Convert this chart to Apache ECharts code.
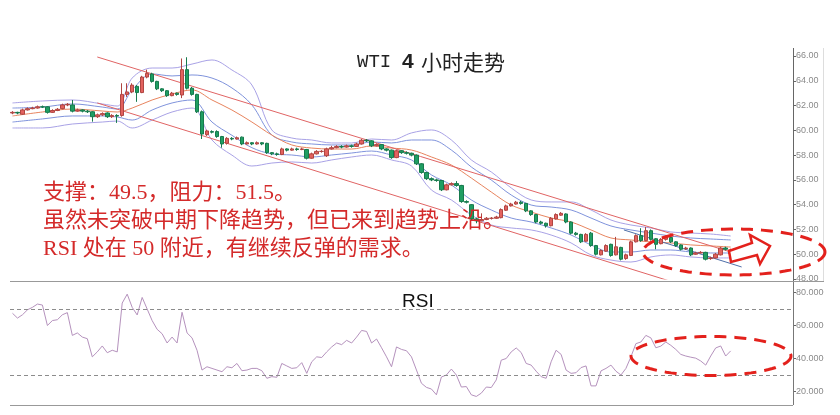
<!DOCTYPE html>
<html><head><meta charset="utf-8">
<script src="https://cdn.jsdelivr.net/npm/echarts@6/dist/echarts.min.js"></script>
<style>html,body{margin:0;padding:0;background:#fff}#c{width:840px;height:415px}</style>
</head><body><div id="c"></div>
<script>
// ---- data ----
const candleOpen = [61.40,61.45,61.30,61.65,61.75,61.80,61.90,61.90,61.45,61.60,61.75,62.05,62.05,61.55,61.65,61.55,61.50,61.10,61.25,61.40,61.10,61.20,
61.20,62.90,63.10,63.55,63.05,64.30,64.55,63.95,63.35,63.20,62.80,63.00,62.85,64.90,63.40,62.90,61.50,59.65,59.90,59.90,59.50,58.95,59.35,59.30,59.45,58.90,59.00,58.90,59.00,58.95,
58.20,58.10,58.05,58.50,58.40,58.50,58.45,58.45,57.75,58.10,58.30,57.95,58.50,58.60,58.70,58.65,58.75,58.70,58.90,59.20,59.15,58.75,58.85,58.50,58.40,57.80,58.35,58.20,58.15,58.00,
57.30,56.60,56.10,56.00,55.95,55.20,55.60,55.70,55.55,54.25,54.00,52.85,52.70,52.80,52.90,52.90,52.95,53.55,53.90,54.05,54.20,54.10,53.50,53.20,52.60,52.50,52.30,52.85,53.15,53.25,
52.60,51.70,51.60,51.05,51.70,50.70,49.95,50.25,50.80,49.95,50.55,49.65,49.90,51.00,51.50,51.10,51.90,51.25,50.85,51.20,51.35,51.00,50.75,50.45,50.50,50.00,50.10,50.15,49.65,49.70,49.95,50.50,50.05];
const candleClose = [61.45,61.40,61.65,61.75,61.80,61.90,61.88,61.45,61.60,61.70,62.05,62.10,61.55,61.65,61.55,61.50,61.10,61.25,61.35,61.10,61.20,61.15,
62.90,63.10,63.65,63.05,64.30,64.60,63.95,63.35,63.20,62.80,63.00,62.90,64.90,63.40,62.90,61.50,59.70,59.95,59.85,59.50,58.90,59.35,59.30,59.40,58.90,59.00,58.90,59.00,58.90,58.20,
58.10,58.05,58.50,58.40,58.50,58.45,58.50,57.75,58.10,58.30,58.30,58.50,58.60,58.70,58.65,58.75,58.70,58.90,59.20,59.15,58.75,58.85,58.50,58.40,57.80,58.35,58.20,58.15,58.00,57.30,
56.60,56.10,56.00,55.95,55.20,55.60,55.70,55.55,54.25,54.20,52.85,52.70,52.80,52.90,52.90,53.00,53.60,53.90,54.05,54.20,54.10,53.50,53.20,52.60,52.50,52.30,52.90,53.20,53.30,52.60,
51.70,51.60,51.00,51.60,50.70,50.00,50.30,50.70,49.90,50.60,49.60,49.95,51.00,51.50,51.10,51.90,51.20,50.80,51.20,51.40,51.00,50.70,50.40,50.50,49.95,50.10,50.15,49.60,49.70,50.00,50.50,50.40,50.35];
const candleLow = [61.30,61.30,61.25,61.60,61.70,61.75,61.80,61.35,61.40,61.55,61.70,61.95,61.45,61.50,61.45,61.40,60.70,61.00,61.15,61.00,61.00,60.60,
61.10,62.70,63.00,62.30,63.00,64.20,63.85,63.25,63.10,62.70,62.75,62.80,62.60,63.30,62.80,61.40,59.30,59.55,59.75,59.40,58.60,58.85,59.20,59.25,58.80,58.85,58.80,58.85,58.80,58.10,
58.00,57.95,58.00,58.30,58.35,58.35,58.40,57.65,57.70,58.05,58.20,57.85,58.45,58.55,58.55,58.60,58.60,58.65,58.85,59.05,58.65,58.70,58.40,58.30,57.70,57.75,58.10,58.05,57.90,57.20,
56.50,56.00,55.90,55.85,55.10,55.15,55.55,55.45,54.15,54.10,52.70,52.50,52.65,52.75,52.80,52.85,52.90,53.50,53.85,54.00,54.00,53.40,53.10,52.50,52.40,52.15,52.25,52.80,53.10,52.50,
51.60,51.50,50.90,51.00,50.60,49.90,49.90,50.20,49.80,49.90,49.50,49.55,49.85,50.95,51.00,51.05,51.10,50.40,50.80,51.10,50.90,50.60,50.30,50.35,49.85,49.95,50.05,49.50,49.55,49.65,49.90,50.30,50.00];
const candleHigh = [61.55,61.50,61.75,61.85,61.90,62.00,62.00,61.95,61.70,61.80,62.15,62.20,62.45,61.75,61.70,61.65,61.55,61.35,61.45,61.45,61.30,61.30,
63.80,63.80,63.80,63.65,64.40,64.90,64.65,64.00,63.40,63.25,63.10,63.05,65.80,65.90,63.50,62.95,61.60,60.05,60.00,60.00,59.55,59.45,59.45,59.50,59.50,59.10,59.05,59.10,59.05,59.00,
58.25,58.20,58.60,58.55,58.60,58.60,58.60,58.50,58.20,58.40,58.40,58.60,58.75,58.80,58.80,58.85,58.85,59.00,59.30,59.30,59.20,58.95,58.90,58.55,58.45,58.45,58.40,58.30,58.20,58.05,
57.35,56.65,56.20,56.10,56.00,55.70,55.80,55.90,55.60,54.35,54.05,52.95,53.30,53.00,53.00,53.10,53.70,54.00,54.15,54.30,54.30,54.15,53.55,53.25,52.70,52.55,53.00,53.30,53.40,53.30,
52.65,51.80,51.65,51.70,51.80,50.75,50.40,50.80,50.85,51.40,50.60,50.05,51.10,51.60,52.10,52.20,52.00,51.30,51.30,51.50,51.40,51.05,50.80,50.60,50.55,50.20,50.25,50.20,49.80,50.10,50.60,50.60,50.45];
const rsiValues = [67.4,64.5,66.5,69.5,71,73,72.4,60,63,63.5,66.5,67.8,54,55.5,53,52,41,44,47.6,43.5,45,44,
73.6,79,71,66.4,77,70,63,57.7,55,49.4,53,49.4,68,55.5,52.5,45,33,35,34,33,32,35,34.4,37,32.6,33,34,34,32.6,28,
29,28.6,37,35.5,34,34.4,37.5,31,38,41,40.6,44,47,49.4,48.4,51,49.4,53,57,56.4,49.4,51.8,46.5,41,35,47,45.5,44.7,41,33,
25,22.5,21.5,18,28.8,30,33.6,30,22.7,23,18,17,19,22.7,22.4,27,39,40,44,46.4,43.6,37,36,32.3,29,28,38,45,42.5,33,
31,31.4,34.5,35.5,23.4,23.4,32.5,34,36,32.3,30,34,41,49,50,54,52.5,46.5,47.5,50,48,45.5,42.5,41.5,40.8,40.2,38.5,36,41.5,46.4,47.6,41.5,44.6];
const rsiLevels = [70, 30];
// band lines, [candle index, price]
const bandOuterUpper = [[0,62.21],[6,62.37],[12,62.45],[18,62.13],[21,61.96],[24,64.22],[28,65.03],[32,65.03],[36,65.35],[40,65.68],[44,64.87],[48,63.66],[52,60.03],[56,59.38],[60,59.22],[64,58.98],[68,58.98],[72,59.30],[76,59.22],[80,59.79],[84,60.03],[88,59.22],[92,57.61],[96,56.64],[100,55.35],[104,54.38],[108,54.22],[112,54.22],[116,53.57],[120,52.76],[124,52.36],[128,52.12],[132,51.80],[136,51.71],[140,51.63],[144,51.47]];
const bandInnerUpper = [[0,61.80],[6,61.88],[12,62.13],[18,61.88],[21,61.72],[24,63.26],[28,64.55],[32,64.39],[36,64.47],[40,64.22],[44,63.42],[48,62.05],[52,59.62],[56,59.06],[60,58.90],[64,58.82],[68,58.82],[72,59.06],[76,58.98],[80,59.22],[84,59.22],[88,58.41],[92,57.04],[96,55.99],[100,54.78],[104,53.97],[108,53.81],[112,53.57],[116,52.92],[120,52.28],[124,51.96],[128,51.71],[132,51.47],[136,51.31],[140,51.23],[144,51.15]];
const bandMiddle = [[0,61.16],[6,61.48],[12,61.72],[18,61.56],[21,61.48],[24,61.80],[28,62.45],[32,62.93],[36,63.26],[40,62.45],[44,61.64],[48,60.67],[52,59.62],[56,58.82],[60,58.57],[64,58.49],[68,58.49],[72,58.74],[76,58.57],[80,58.41],[84,57.85],[88,57.20],[92,56.15],[96,55.02],[100,53.97],[104,53.41],[108,52.92],[112,52.60],[116,51.96],[120,51.31],[124,51.15],[128,50.99],[132,50.91],[136,50.75],[140,50.67],[144,50.58]];
const bandInnerLower = [[0,60.67],[6,60.92],[12,61.16],[18,61.16],[21,61.08],[24,60.83],[28,61.64],[32,62.21],[36,62.45],[40,60.67],[44,59.60],[48,58.60],[52,58.10],[56,58.01],[60,57.85],[64,58.01],[68,58.17],[72,58.33],[76,58.01],[80,57.61],[84,56.40],[88,55.59],[92,54.38],[96,53.57],[100,52.92],[104,52.60],[108,52.12],[112,51.55],[116,50.75],[120,50.18],[124,50.18],[128,50.34],[132,50.34],[136,50.18],[140,50.10],[144,50.10]];
const bandOuterLower = [[0,60.19],[6,60.19],[12,60.51],[18,60.67],[21,60.75],[24,60.19],[28,60.83],[32,61.48],[36,61.80],[40,59.22],[44,58.00],[48,57.12],[52,57.36],[56,57.45],[60,57.36],[64,57.61],[68,57.85],[72,58.01],[76,57.61],[80,57.12],[84,55.18],[88,54.38],[92,53.17],[96,52.36],[100,52.12],[104,51.96],[108,51.55],[112,50.91],[116,49.94],[120,49.53],[124,49.37],[128,49.78],[132,49.94],[136,49.78],[140,49.70],[144,49.70]];
// trend lines
const channelUpper = [[17,65.92],[146.6,49.86]];
const channelLower = [[17,62.21],[146.6,45.98]];
const trendBlue = [[122.6,51.96],[146.2,48.97]];
const priceTicks = {min:48, max:66, step:2};
const rsiTicks = {min:20, max:80, step:20};

const slotCount = 157;
const categories = Array.from({length: slotCount}, (_, i) => 'K' + i);
const candleData = candleOpen.map((o, i) => [o, candleClose[i], candleLow[i], candleHigh[i]]);

function ellipsePts(cx, cy, rx, ry){
  const p = [];
  for (let k = 0; k < 90; k++) { const t = k / 90 * Math.PI * 2; p.push([cx + rx*Math.cos(t), cy + ry*Math.sin(t)]); }
  return p;
}

const chart = echarts.init(document.getElementById('c'), null, {renderer:'canvas'});
const lineSeries = (name, data, color) => ({
  name, type:'line', xAxisIndex:1, yAxisIndex:0, data, smooth:0.35, symbol:'none',
  lineStyle:{color, width:1}, z:2, silent:true
});
const redText = '#d42a2a';
const txtFont = '"Liberation Serif","Noto Sans CJK SC"';
const axisBase = {
  axisLine:{show:false, onZero:false}, splitLine:{show:false},
  axisTick:{show:true, inside:false, length:3, lineStyle:{color:'#666'}}
};
chart.setOption({
  animation:false,
  backgroundColor:'#fff',
  grid:[
    {left:10, right:47, top:56, height:223},
    {left:10, right:47, top:292.5, height:99}
  ],
  xAxis:[
    {type:'category', gridIndex:0, data:categories, show:false, boundaryGap:true},
    {type:'value', gridIndex:0, min:-0.5, max:slotCount-0.5, show:false},
    {type:'category', gridIndex:1, data:categories, show:false, boundaryGap:true}
  ],
  yAxis:[
    Object.assign({type:'value', gridIndex:0, position:'right', min:priceTicks.min, max:priceTicks.max, interval:priceTicks.step,
     axisLabel:{color:'#8a8a8a', fontSize:9, margin:3, fontFamily:'Liberation Sans', formatter:v=>v.toFixed(2)}}, axisBase),
    Object.assign({type:'value', gridIndex:1, position:'right', min:rsiTicks.min, max:rsiTicks.max, interval:rsiTicks.step,
     axisLabel:{color:'#8a8a8a', fontSize:9, margin:3, fontFamily:'Liberation Sans', formatter:v=>v.toFixed(4)}}, axisBase)
  ],
  series:[
    lineSeries('outerUpper', bandOuterUpper, '#a9a2e6'),
    lineSeries('innerUpper', bandInnerUpper, '#7f93dc'),
    lineSeries('middle', bandMiddle, '#e8845e'),
    lineSeries('innerLower', bandInnerLower, '#7f93dc'),
    lineSeries('outerLower', bandOuterLower, '#a9a2e6'),
    {type:'line', xAxisIndex:1, yAxisIndex:0, data:channelUpper, symbol:'none', lineStyle:{color:'#e06464', width:1}, z:3, silent:true},
    {type:'line', xAxisIndex:1, yAxisIndex:0, data:channelLower, symbol:'none', lineStyle:{color:'#e06464', width:1}, z:3, silent:true},
    {type:'line', xAxisIndex:1, yAxisIndex:0, data:trendBlue, symbol:'none', lineStyle:{color:'#4f6fa8', width:1}, z:3, silent:true},
    {type:'candlestick', xAxisIndex:0, yAxisIndex:0, data:candleData, barWidth:4, z:5,
     itemStyle:{color:'#e3625f', color0:'#1f9e63', borderColor:'#b04642', borderColor0:'#177a4d', borderWidth:1}},
    {type:'line', xAxisIndex:2, yAxisIndex:1, data:rsiValues, symbol:'none', clip:false,
     lineStyle:{color:'#b592bd', width:1},
     markLine:{silent:true, symbol:'none', label:{show:false},
       lineStyle:{color:'#8c8c8c', type:[4,3], width:1},
       data: rsiLevels.map(v => ({yAxis:v}))}}
  ],
  graphic:[
    // panel frame
    {type:'line', shape:{x1:793.5, y1:48, x2:793.5, y2:281}, style:{stroke:'#666', lineWidth:1}, z:10},
    {type:'line', shape:{x1:823.5, y1:48, x2:823.5, y2:281}, style:{stroke:'#ddd', lineWidth:1}, z:10},
    {type:'line', shape:{x1:10, y1:281.5, x2:824, y2:281.5}, style:{stroke:'#999', lineWidth:1.2}, z:10},
    {type:'line', shape:{x1:793.5, y1:282, x2:793.5, y2:405}, style:{stroke:'#777', lineWidth:1}, z:10},
    {type:'line', shape:{x1:10, y1:405.5, x2:793, y2:405.5}, style:{stroke:'#999', lineWidth:1.2}, z:10},
    {type:'rect', shape:{x:824, y:283, width:16, height:132}, style:{fill:'#fff'}, z:20},
    // title
    {type:'text', x:357, y:62, z:30, style:{text:'WTI', font:'19px "Liberation Mono"', fill:'#222', textVerticalAlign:'middle'}},
    {type:'text', x:402, y:62, z:30, style:{text:'4', font:'bold 21px "Liberation Sans"', fill:'#222', textVerticalAlign:'middle'}},
    {type:'text', x:421, y:62, z:30, style:{text:'小时走势', font:'21px "Noto Sans CJK SC"', fill:'#222', textVerticalAlign:'middle'}},
    // annotation text
    {type:'text', x:43, y:193, z:30, style:{text:'支撑：49.5，阻力：51.5。', font:'22px '+txtFont, fill:redText, textVerticalAlign:'middle'}},
    {type:'text', x:43, y:221, z:30, style:{text:'虽然未突破中期下降趋势，但已来到趋势上沿。', font:'22px '+txtFont, fill:redText, textVerticalAlign:'middle'}},
    {type:'text', x:43, y:249, z:30, style:{text:'RSI 处在 50 附近，有继续反弹的需求。', font:'22px '+txtFont, fill:redText, textVerticalAlign:'middle'}},
    {type:'text', x:402, y:302, z:30, style:{text:'RSI', font:'19px "Liberation Sans"', fill:'#111', textVerticalAlign:'middle'}},
    // highlight ellipses
    {type:'polygon', z:40, shape:{points:ellipsePts(734,252,91,23)}, style:{fill:'none', stroke:'#e3211c', lineWidth:3, lineDash:[12,8]}},
    {type:'polygon', z:40, shape:{points:ellipsePts(711,356,80,19.5)}, style:{fill:'none', stroke:'#e3211c', lineWidth:3, lineDash:[12,8]}},
    // arrow
    {type:'polygon', z:41, shape:{points:[[729,251],[752,243],[750,235],[770,246],[760,264],[757,255],[731,262]]},
     style:{fill:'#fff', stroke:'#e3211c', lineWidth:2.5, lineJoin:'miter'}}
  ]
});
</script>
</body></html>
